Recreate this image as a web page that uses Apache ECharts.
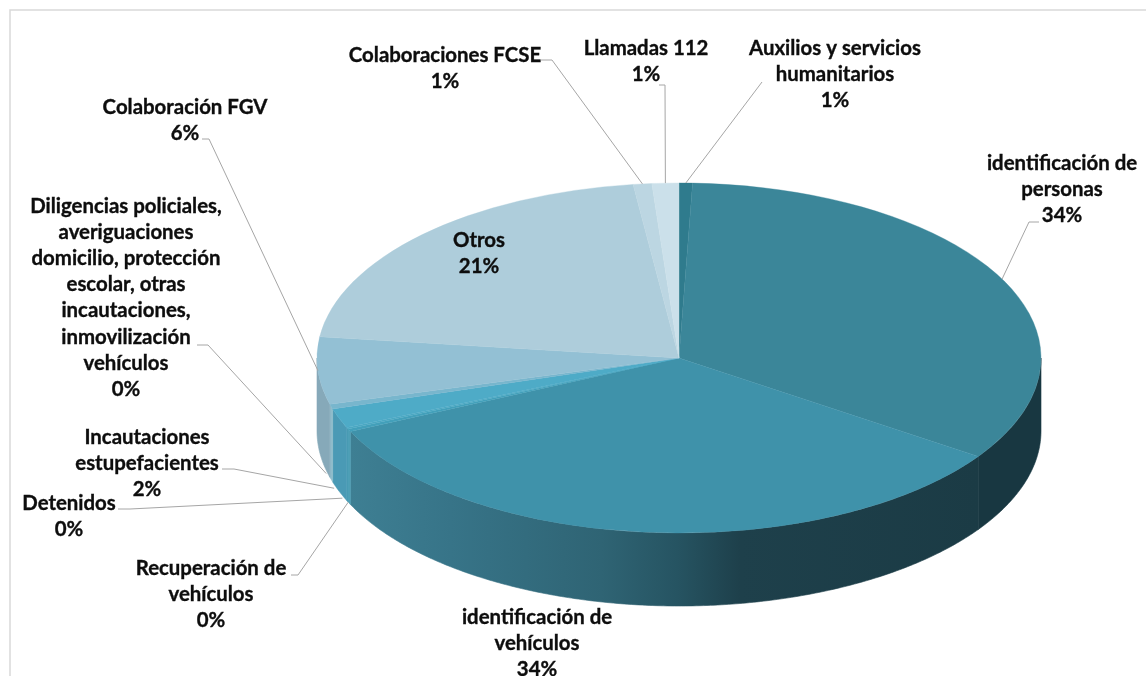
<!DOCTYPE html>
<html><head><meta charset="utf-8">
<style>html,body{margin:0;padding:0;background:#fff}#c{width:1146px;height:676px}</style>
<script src="https://cdn.jsdelivr.net/npm/echarts@6/dist/echarts.min.js"></script>
</head><body><div id="c"></div>
<script>
// ---- data (clockwise from 12 o'clock) ----
const categories = [
  'Auxilios y servicios\nhumanitarios','identificación de\npersonas','identificación de\nvehículos',
  'Recuperación de\nvehículos','Detenidos','Incautaciones\nestupefacientes',
  'Diligencias policiales,\naveriguaciones\ndomicilio, protección\nescolar, otras\nincautaciones,\ninmovilización\nvehículos',
  'Colaboración FGV','Otros','Colaboraciones FCSE','Llamadas 112'];
const shares = [0.6, 34.0, 33.7, 0.25, 0.15, 1.8, 0.45, 6.2, 21.1, 0.83, 1.2];

// ---- styles and layout ----
const topColors = ['#2f7b8d','#3b8699','#3f92aa','#43a0ba','#4aa8c2','#4eabc7','#78b6cd','#93c0d4','#aecddb','#bcd6e2','#cbe0ea'];
const wallColors = [
  '#17363f','#183741',null,'#4e9fb6','#4a9db5','#4a9ab5','#8fbccb','#86a9b9','#86a9b9','#86a9b9','#86a9b9'];
const vehicleWallStops = [[0,'#3e7f93'],[0.16,'#377488'],[0.4,'#2f6474'],[0.52,'#265462'],[0.62,'#1e404b'],[1,'#1b3b45']];
const C = {x:679, y:358, rx:362, ry:175, depth:73};
const FS = 20.4, LH = 26.2;
// label centre x, first line centre y
const labelPos = [[835,48],[1062,163],[537,617],[211,568],[69,503],[147,437],[126,206],[185,107],[479,240],[445,55],[646,48]];
// start of leader, elbow, depth on the wall at which it lands (null = no leader)
const leaders = [
  {s:[762,82],e:[762,82],d:0},{s:[1039,222],e:[1029,222],d:0},null,
  {s:[291,575],e:[298,575],d:72,n:[-1,0]},{s:[118,509],e:[130,509],d:70,n:[-5,0]},{s:[222,469],e:[234,469],d:70,n:[-5,0]},
  {s:[197,345],e:[208,345],d:67,n:[-5,0]},{s:[202,139],e:[209,139],d:0},null,{s:[541,60],e:[552,60],d:0},{s:[659,85],e:[665,85],d:0}];

const total = shares.reduce((a,b)=>a+b,0);
const starts = []; shares.reduce((acc,v,i)=>{starts[i]=acc;return acc+v;},0);
const ang = v => v/total*2*Math.PI;            // clockwise from top
const rim = (t,dz=0) => [C.x+C.rx*Math.sin(t), C.y-C.ry*Math.cos(t)+dz];

function wallItem(params){
  const i = params.dataIndex;
  let a0 = ang(starts[i]), a1 = ang(starts[i]+shares[i]);
  a0 = Math.max(a0, Math.PI/2); a1 = Math.min(a1, 3*Math.PI/2);
  if (a1 <= a0) return null;
  const n = Math.max(2, Math.ceil((a1-a0)/0.01)), top=[], bot=[];
  for (let k=0;k<=n;k++){ const t=a0+(a1-a0)*k/n; top.push(rim(t)); bot.unshift(rim(t,C.depth)); }
  let fill = wallColors[i], stroke = wallColors[i];
  if (i===2){
    const xs = top.map(p=>p[0]);
    fill = new echarts.graphic.LinearGradient(Math.min(...xs),0,Math.max(...xs),0,
      vehicleWallStops.map(([o,c])=>({offset:o,color:c})), true);
    stroke = fill;
  }
  return {type:'polygon', shape:{points:top.concat(bot)}, style:{fill, stroke, lineWidth:0.6}};
}
function topItem(params){
  const i = params.dataIndex, off = -Math.PI/2;
  return {type:'sector', x:C.x, y:C.y, scaleY:C.ry/C.rx,
    shape:{cx:0,cy:0,r:C.rx,r0:0,clockwise:true,
      startAngle:ang(starts[i])+off, endAngle:ang(starts[i]+shares[i])+off},
    style:{fill:topColors[i], stroke:topColors[i], lineWidth:0.5}};
}
function labelItem(params){
  const i = params.dataIndex, children=[];
  const L = leaders[i];
  if (L){
    const p = rim(ang(starts[i]+shares[i]/2), L.d), nudge = L.n||[0,0];
    children.push({type:'polyline', shape:{points:[L.s,L.e,[p[0]+nudge[0],p[1]+nudge[1]]]},
      style:{stroke:'#a6a6a6',lineWidth:1,fill:'none'}});
  }
  const [lx,ly] = labelPos[i];
  children.push({type:'text', x:lx, y:ly-LH/2, style:{
    text: categories[i]+'\n'+Math.round(shares[i])+'%',
    fill:'#0d0d0d', stroke:'#0d0d0d', lineWidth:0.35,
    font:'bold '+FS+'px Lato', lineHeight:LH, align:'center', verticalAlign:'top'}});
  return {type:'group', children};
}
const rows = shares.map((v,i)=>({name:categories[i],value:[v]}));
const chart = echarts.init(document.getElementById('c'),null,{renderer:'canvas'});
chart.setOption({
  animation:false, backgroundColor:'#fff',
  graphic:[{type:'rect',silent:true,z:0,shape:{x:10,y:10,width:1300,height:800},style:{fill:'none',stroke:'#d9d9d9',lineWidth:1.5}}],
  series:[
    {type:'custom',coordinateSystem:'none',z:1,silent:true,renderItem:wallItem,data:rows},
    {type:'custom',coordinateSystem:'none',z:2,silent:true,renderItem:topItem,data:rows},
    {type:'custom',coordinateSystem:'none',z:3,silent:true,renderItem:labelItem,data:rows}
  ]
});
</script></body></html>
